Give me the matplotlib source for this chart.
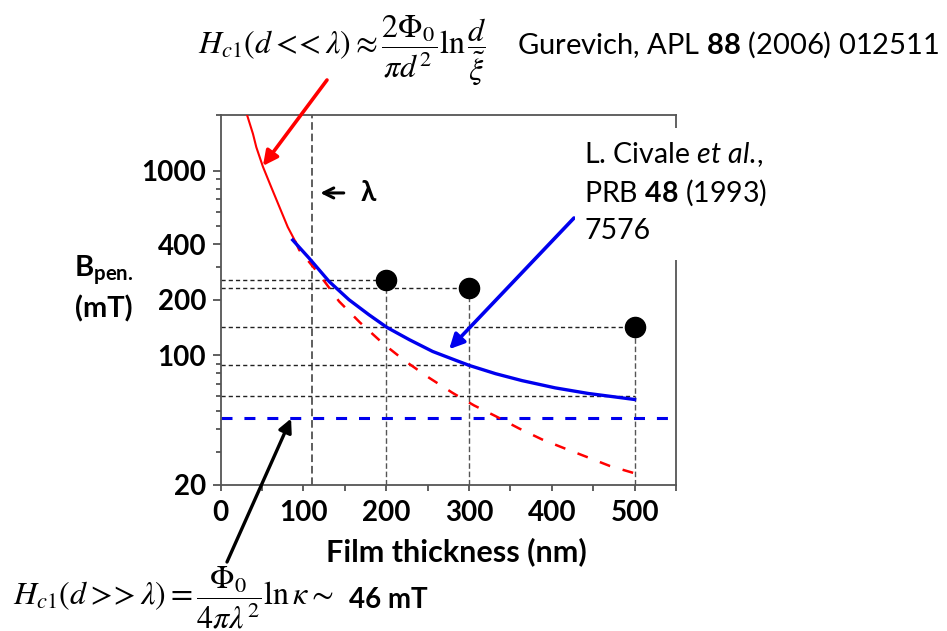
import matplotlib
matplotlib.use("Agg")
import matplotlib.pyplot as plt
from matplotlib.patches import Rectangle
from matplotlib.ticker import FixedLocator, NullFormatter

plt.rcParams["font.family"] = ["Lato", "DejaVu Sans"]
plt.rcParams["mathtext.fontset"] = "custom"
plt.rcParams["mathtext.rm"] = "Lato"
plt.rcParams["mathtext.it"] = "Lato:italic"
plt.rcParams["mathtext.bf"] = "Lato:bold"

# Gurevich thin-film curve, solid part (d < lambda)
red_solid_x = [32, 39, 43, 51, 61, 71, 81, 90]
red_solid_y = [1990, 1580, 1340, 1050, 815, 635, 495, 415]

# Gurevich curve, dashed continuation
red_dash_x = [90, 95, 119, 143, 168, 196, 223, 252, 280, 306, 332, 360,
              388, 416, 444, 470, 500]
red_dash_y = [415, 371, 275, 196, 151, 116, 93, 75.5, 62.7, 53.6, 46.9,
              40.3, 35.1, 31.3, 28, 25.2, 23]

# Civale et al. curve
blue_x = [87, 107, 131, 155, 179, 201, 228, 256, 284, 301, 332, 364, 404,
          444, 500]
blue_y = [421, 335, 251, 200, 166, 141.5, 121.5, 105, 94, 88, 79.6, 73,
          66.7, 62.2, 57.7]

# measured penetration fields
dots_x = [200, 300, 500]
dots_y = [255, 231, 142]

# guide levels
civale_mark_x = [300, 500]
civale_mark_y = [88.5, 60]

lambda_nm = 110
hc1_bulk = 46

x_ticks = [0, 100, 200, 300, 400, 500]
y_ticks = [20, 100, 200, 400, 1000]

W, H = 947, 631


def fx(px):
    return px / W


def fy(py):
    return 1 - py / H


fig = plt.figure(figsize=(W / 100, H / 100), dpi=100)
ax = fig.add_axes([fx(220.7), fy(484.5), (676 - 220.7) / W, (484.5 - 115) / H])

ax.set_yscale("log")
ax.set_xlim(0, 550)
ax.set_ylim(20, 2000)

guide = dict(color="#222222", lw=1.0, ls=(0, (3, 2.2)), zorder=1)
vguide = dict(color="#555555", lw=1.0, ls=(0, (4, 2)), zorder=1)

# horizontal guides from the points and the Civale curve
for x, y in zip(dots_x, dots_y):
    ax.plot([0, x], [y, y], **guide)
    ax.plot([x, x], [20, y], **vguide)
for x, y in zip(civale_mark_x, civale_mark_y):
    ax.plot([0, x], [y, y], **guide)

ax.axvline(lambda_nm, color="#333333", lw=1.1, ls=(0, (5, 2.5)), zorder=1)
ax.axhline(hc1_bulk, color="#0000ee", lw=2.2, ls=(0, (3.6, 3.9)), zorder=2)

ax.plot(red_solid_x, red_solid_y, color="red", lw=1.5, zorder=3)
ax.plot(red_dash_x, red_dash_y, color="red", lw=1.8, ls=(0, (4.4, 5.2)),
        zorder=3)
ax.plot(blue_x, blue_y, color="#0000ee", lw=2.4, zorder=4)
ax.plot(dots_x, dots_y, "o", color="black", ms=14.5, zorder=5)

# axes styling
for sp in ax.spines.values():
    sp.set_color("#555555")
    sp.set_linewidth(1.3)

ax.xaxis.set_major_locator(FixedLocator(x_ticks))
ax.xaxis.set_minor_locator(FixedLocator([50, 150, 250, 350, 450, 550]))
ax.set_xticklabels([str(t) for t in x_ticks])
ax.yaxis.set_major_locator(FixedLocator(y_ticks))
ax.set_yticklabels([str(t) for t in y_ticks])
ax.yaxis.set_minor_locator(FixedLocator(
    [30, 40, 50, 60, 70, 80, 90, 300, 500, 600, 700, 800, 900, 2000]))
ax.yaxis.set_minor_formatter(NullFormatter())

ax.tick_params(which="both", direction="out", color="#444444", width=1.2)
ax.tick_params(axis="x", which="both", length=4.5, pad=7)
ax.tick_params(axis="y", which="major", length=5.5, pad=5)
ax.tick_params(axis="y", which="minor", length=3.5)
for lab in ax.get_xticklabels() + ax.get_yticklabels():
    lab.set_fontsize(20)
    lab.set_fontweight("bold")

fig.text(fx(456), fy(552), "Film thickness (nm)", fontsize=22,
         fontweight="bold", ha="center", va="center")
fig.text(fx(104), fy(270), r"B$_{\mathbf{pen.}}$", fontsize=21,
         fontweight="bold", ha="center", va="center")
fig.text(fx(104), fy(309), "(mT)", fontsize=21, fontweight="bold",
         ha="center", va="center")

# lambda marker
ax.annotate("", xy=(117, 757), xytext=(152, 757),
            arrowprops=dict(arrowstyle="->", lw=2.2, color="black",
                            mutation_scale=18))
ax.text(178, 757, r"λ", fontsize=20, fontweight="bold", ha="center",
        va="center")

# Civale reference, white box hides the right spine behind it
fig.patches.append(Rectangle((fx(575), fy(260)), 200 / W, 132 / H,
                             transform=fig.transFigure, facecolor="white",
                             edgecolor="none", zorder=2))
fig.text(fx(584), fy(155), r"L. Civale $\mathit{et\ al.}\!$,", fontsize=20.5,
         va="center", zorder=3)
fig.text(fx(584), fy(193), r"PRB $\mathbf{48}$ (1993)", fontsize=20.5,
         va="center", zorder=3)
fig.text(fx(584), fy(231), "7576", fontsize=20.5, va="center", zorder=3)

# formulas
fig.text(fx(198), fy(50),
         r"$H_{c1}(d<\!\!<\lambda) \approx \dfrac{2\Phi_0}{\pi d^2}"
         r"\ln\dfrac{d}{\tilde{\xi}}$",
         math_fontfamily="stix", fontsize=23, va="center")
fig.text(fx(517), fy(45), r"Gurevich, APL $\mathbf{88}$ (2006) 012511",
         fontsize=21, va="center")
fig.text(fx(13), fy(598),
         r"$H_{c1}(d>\!\!>\lambda) = \dfrac{\Phi_0}{4\pi\lambda^2}"
         r"\ln\kappa \sim$",
         math_fontfamily="stix", fontsize=23, va="center")
fig.text(fx(349), fy(600), "46 mT", fontsize=20, fontweight="bold",
         va="center")

# pointer arrows
ax.annotate("", xy=(51, 1060), xycoords="data",
            xytext=(327, H - 80), textcoords="figure pixels",
            arrowprops=dict(arrowstyle="-|>", lw=2.6, color="red",
                            mutation_scale=22, shrinkA=0, shrinkB=0))
ax.annotate("", xy=(276, 108), xycoords="data",
            xytext=(574, H - 218), textcoords="figure pixels",
            arrowprops=dict(arrowstyle="-|>", lw=2.6, color="#0000ee",
                            mutation_scale=22, shrinkA=0, shrinkB=0))
ax.annotate("", xy=(85, 45.5), xycoords="data",
            xytext=(227, H - 562), textcoords="figure pixels",
            arrowprops=dict(arrowstyle="-|>", lw=2.4, color="black",
                            mutation_scale=20, shrinkA=0, shrinkB=0))

fig.savefig("out.png", dpi=100)
